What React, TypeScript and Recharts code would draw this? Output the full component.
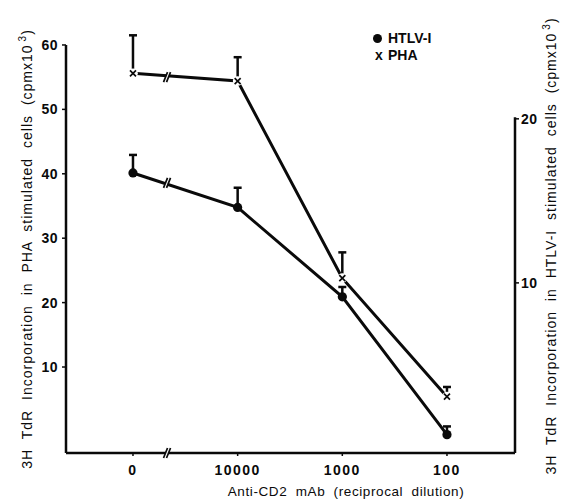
import React from 'react';
import {
  ComposedChart,
  Line,
  XAxis,
  YAxis,
  ErrorBar,
  ReferenceLine,
  ReferenceDot,
  Legend,
  Label,
} from 'recharts';

// dilution steps, plotted at evenly spaced positions
const positions = [0, 1, 2, 3];
const dilutionLabels = ['0', '10000', '1000', '100'];

// PHA stimulated cells (left axis, cpm x 10^3)
const phaValues = [55.6, 54.4, 23.8, 5.4];
const phaErrors = [5.9, 3.7, 4.0, 1.5];

// HTLV-I stimulated cells (right axis, cpm x 10^3)
const htlvValues = [16.7, 14.6, 9.15, 0.75];
const htlvErrors = [1.1, 1.2, 0.6, 0.5];

const leftTicks = [10, 20, 30, 40, 50, 60];
const rightTicks = [10, 20];

// axis break between 0 and 10000
const breakPos = 0.33;
const phaAtBreak = 55.0;
const htlvAtBreak = 16.1;

const xDomain = [-0.64, 3.65];
const leftDomain = [-3.35, 63.1];
const rightDomain = [-0.37, 25.72];

const INK = '#0a0a0a';
const FONT = '"Liberation Sans", Arial, Helvetica, sans-serif';

const chartData = positions.map((pos, i) => ({
  pos,
  pha: phaValues[i],
  phaErr: [0, phaErrors[i]],
  htlv: htlvValues[i],
  htlvErr: [0, htlvErrors[i]],
}));

const tickStyle = { fill: INK, fontFamily: FONT, fontWeight: 700, fontSize: 14, letterSpacing: 0.5 };

const CircleDot = (props: any) => {
  const { cx, cy } = props;
  if (cx == null || cy == null) return null;
  return <circle cx={cx} cy={cy} r={4.6} fill={INK} />;
};

const CrossDot = (props: any) => {
  const { cx, cy } = props;
  if (cx == null || cy == null) return null;
  const s = 3;
  return (
    <g>
      <circle cx={cx} cy={cy} r={4.8} fill="#fff" />
      <line x1={cx - s} y1={cy - s} x2={cx + s} y2={cy + s} stroke={INK} strokeWidth={1.7} />
      <line x1={cx - s} y1={cy + s} x2={cx + s} y2={cy - s} stroke={INK} strokeWidth={1.7} />
    </g>
  );
};

const BreakMark = (props: any) => {
  const { cx, cy } = props;
  if (cx == null || cy == null) return null;
  return (
    <g>
      <polygon
        points={`${cx - 4},${cy + 5} ${cx},${cy - 5} ${cx + 3},${cy - 5} ${cx - 1},${cy + 5}`}
        fill="#fff"
      />
      <line x1={cx - 4} y1={cy + 5} x2={cx} y2={cy - 5} stroke={INK} strokeWidth={1.7} />
      <line x1={cx - 1} y1={cy + 5} x2={cx + 3} y2={cy - 5} stroke={INK} strokeWidth={1.7} />
    </g>
  );
};

const AxisTitle = ({ x, y, series }: { x: number; y: number; series: string }) => (
  <text
    x={x}
    y={y}
    transform={`rotate(-90 ${x} ${y})`}
    textAnchor="middle"
    dominantBaseline="central"
    fill={INK}
    fontFamily={FONT}
    fontSize={14}
    letterSpacing={1}
    wordSpacing={5}
  >
    <tspan>{`3H TdR Incorporation in ${series} stimulated cells (cpmx10`}</tspan>
    <tspan dx={3} dy={-5} fontSize={10}>3</tspan>
    <tspan dy={5}>)</tspan>
  </text>
);

const LegendBox = () => (
  <div style={{ fontFamily: FONT, fontWeight: 700, fontSize: 14, lineHeight: '17px', color: INK }}>
    <div style={{ display: 'flex', alignItems: 'center' }}>
      <span
        style={{ display: 'inline-block', width: 9, height: 9, borderRadius: '50%', background: INK, marginRight: 6 }}
      />
      HTLV-I
    </div>
    <div style={{ display: 'flex', alignItems: 'center' }}>
      <span style={{ display: 'inline-block', width: 9, marginLeft: 2, marginRight: 4 }}>x</span>
      PHA
    </div>
  </div>
);

export default function App() {
  return (
    <div style={{ position: 'absolute', left: 0, top: 0, background: '#fff' }}>
      <ComposedChart width={564} height={504} data={chartData} margin={{ top: 25, right: 0, bottom: 0, left: 0 }}>
        <XAxis
          dataKey="pos"
          type="number"
          domain={xDomain}
          ticks={positions}
          tickFormatter={(v: number) => dilutionLabels[positions.indexOf(v)]}
          axisLine={{ stroke: INK, strokeWidth: 2.5 }}
          tickLine={{ stroke: INK, strokeWidth: 1.5 }}
          tickSize={3}
          tickMargin={9}
          height={51}
          tick={{ ...tickStyle, letterSpacing: 1.5 }}
          allowDecimals
        >
          <Label
            content={() => (
              <text
                x={346}
                y={496}
                textAnchor="middle"
                fill={INK}
                fontFamily={FONT}
                fontSize={13.5}
                letterSpacing={0.6}
                wordSpacing={4}
              >
                Anti-CD2 mAb (reciprocal dilution)
              </text>
            )}
          />
        </XAxis>
        <YAxis
          yAxisId="left"
          type="number"
          domain={leftDomain}
          ticks={leftTicks}
          axisLine={false}
          tickLine={{ stroke: INK, strokeWidth: 1.5 }}
          tickSize={4}
          tickMargin={4}
          width={66}
          tick={tickStyle}
        >
          <Label content={() => <AxisTitle x={27} y={249} series="PHA" />} />
        </YAxis>
        <YAxis
          yAxisId="right"
          orientation="right"
          type="number"
          domain={rightDomain}
          ticks={rightTicks}
          axisLine={false}
          tickLine={{ stroke: INK, strokeWidth: 1.5 }}
          tickSize={4}
          tickMargin={2}
          width={49}
          tick={tickStyle}
        >
          <Label content={() => <AxisTitle x={551} y={246} series="HTLV-I" />} />
        </YAxis>

        <ReferenceLine
          yAxisId="left"
          segment={[
            { x: xDomain[0], y: leftDomain[0] },
            { x: xDomain[0], y: 60 },
          ]}
          stroke={INK}
          strokeWidth={2.5}
        />
        <ReferenceLine
          yAxisId="right"
          segment={[
            { x: xDomain[1], y: rightDomain[0] },
            { x: xDomain[1], y: 20.1 },
          ]}
          stroke={INK}
          strokeWidth={2.5}
        />

        {/* lines with upper error bars */}
        <Line yAxisId="right" dataKey="htlv" stroke={INK} strokeWidth={3} dot={false} activeDot={false} isAnimationActive={false}>
          <ErrorBar dataKey="htlvErr" direction="y" width={4} stroke={INK} strokeWidth={2.5} isAnimationActive={false} />
        </Line>
        <Line yAxisId="left" dataKey="pha" stroke={INK} strokeWidth={3} dot={false} activeDot={false} isAnimationActive={false}>
          <ErrorBar dataKey="phaErr" direction="y" width={4} stroke={INK} strokeWidth={2.5} isAnimationActive={false} />
        </Line>

        {/* markers drawn on top so the lower error caps are hidden */}
        <Line yAxisId="right" dataKey="htlv" stroke="none" dot={<CircleDot />} activeDot={false} legendType="none" isAnimationActive={false} />
        <Line yAxisId="left" dataKey="pha" stroke="none" dot={<CrossDot />} activeDot={false} legendType="none" isAnimationActive={false} />

        <ReferenceDot yAxisId="left" x={breakPos} y={phaAtBreak} shape={<BreakMark />} />
        <ReferenceDot yAxisId="right" x={breakPos} y={htlvAtBreak} shape={<BreakMark />} />
        <ReferenceDot yAxisId="left" x={breakPos} y={leftDomain[0]} shape={<BreakMark />} />

        <Legend
          layout="horizontal"
          verticalAlign="middle"
          align="center"
          content={<LegendBox />}
          wrapperStyle={{ left: 373, top: 30, width: 'auto' }}
        />
      </ComposedChart>
    </div>
  );
}
